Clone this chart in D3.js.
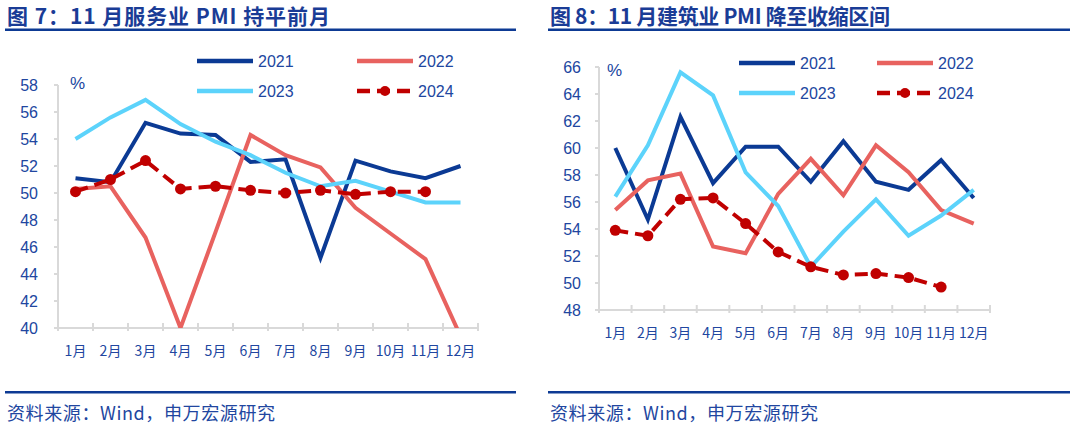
<!DOCTYPE html>
<html><head><meta charset="utf-8">
<script src="https://cdn.jsdelivr.net/npm/d3@7"></script>
<style>
body{margin:0;background:#fff;}
svg{display:block;}
text{font-family:"Liberation Sans",Arial,"Noto Sans CJK SC",sans-serif;}
</style></head>
<body>
<svg id="c" width="1080" height="426"></svg>
<script>
const months = ["1月","2月","3月","4月","5月","6月","7月","8月","9月","10月","11月","12月"];
const seriesNames = ["2021","2022","2023","2024"];

// Chart 7: services PMI
const svc2021 = [51.1,50.8,55.2,54.4,54.3,52.3,52.5,45.2,52.4,51.6,51.1,52.0];
const svc2022 = [50.3,50.5,46.7,40.0,47.1,54.3,52.8,51.9,48.9,47.0,45.1,39.4];
const svc2023 = [54.0,55.6,56.9,55.1,53.8,52.8,51.5,50.5,50.9,50.1,49.3,49.3];
const svc2024 = [50.1,51.0,52.4,50.3,50.5,50.2,50.0,50.2,49.9,50.1,50.1];
const svcTicks = [40,42,44,46,48,50,52,54,56,58];

// Chart 8: construction PMI
const con2021 = [60.0,54.7,62.3,57.4,60.1,60.1,57.5,60.5,57.5,56.9,59.1,56.3];
const con2022 = [55.4,57.6,58.1,52.7,52.2,56.6,59.2,56.5,60.2,58.2,55.4,54.4];
const con2023 = [56.4,60.2,65.6,63.9,58.2,55.7,51.2,53.8,56.2,53.5,55.0,56.9];
const con2024 = [53.9,53.5,56.2,56.3,54.4,52.3,51.2,50.6,50.7,50.4,49.7];
const conTicks = [48,50,52,54,56,58,60,62,64,66];

const colors = ["#0b3a94","#e8625f","#5cd3fb","#c00000"];
const textBlue = "#2146a0";
const titleBlue = "#1a3c96";
const svg = d3.select("#c");

function panel(o){
  const g = svg.append("g");
  // title
  g.append("text").attr("x",o.tx).attr("y",24).attr("font-size",21).attr("font-weight","bold")
    .attr("fill",titleBlue).attr("textLength",o.tlen).attr("lengthAdjust","spacing")
    .style("font-family","'Noto Sans CJK SC','Liberation Sans',sans-serif").text(o.title);
  g.append("rect").attr("x",o.tx-2).attr("y",28.5).attr("width",o.lw).attr("height",2.5).attr("fill","#0d3a94");
  g.append("rect").attr("x",o.tx-2).attr("y",391).attr("width",o.lw).attr("height",2.5).attr("fill","#0d3a94");
  g.append("text").attr("x",o.tx).attr("y",420).attr("font-size",18).attr("fill",textBlue)
    .attr("textLength",268).attr("lengthAdjust","spacing")
    .style("font-family","'Noto Sans CJK SC',sans-serif").text("资料来源：Wind，申万宏源研究");

  const x = d3.scaleBand().domain(months).range([o.x0,o.x1]);
  const y = d3.scaleLinear().domain([o.ticks[0],o.ticks[o.ticks.length-1]]).range([o.y1,o.y0]);

  // axes
  const ax = g.append("g");
  ax.append("line").attr("x1",o.x0).attr("x2",o.x0).attr("y1",y(o.ticks[o.ticks.length-1])).attr("y2",o.y1)
    .attr("stroke","#d9d9d9").attr("stroke-width",2);
  ax.append("line").attr("x1",o.x0).attr("x2",o.x1).attr("y1",o.y1).attr("y2",o.y1)
    .attr("stroke","#d9d9d9").attr("stroke-width",2);
  o.ticks.forEach(t=>{
    ax.append("line").attr("x1",o.x0-4).attr("x2",o.x0).attr("y1",y(t)).attr("y2",y(t)).attr("stroke","#d9d9d9").attr("stroke-width",2);
    ax.append("text").attr("x",o.x0-o.ylabOff).attr("y",y(t)).attr("dy","0.36em").attr("text-anchor","end")
      .attr("font-size",16).attr("fill",textBlue).text(t);
  });
  const bounds = months.map(m=>x(m)).concat([o.x1]);
  bounds.forEach(b=>{
    ax.append("line").attr("x1",b).attr("x2",b).attr("y1",o.y1-5).attr("y2",o.y1+3).attr("stroke","#d9d9d9").attr("stroke-width",2);
  });
  months.forEach(m=>{
    ax.append("text").attr("x",x(m)+x.bandwidth()/2).attr("y",o.y1+o.xlabOff).attr("text-anchor","middle")
      .attr("font-size",14).attr("fill",textBlue).style("font-family","'Noto Sans CJK SC',sans-serif").text(m);
  });
  g.append("text").attr("x",o.px).attr("y",o.py).attr("font-size",17).attr("fill",textBlue).text("%");

  const cid = "clip"+o.id;
  svg.append("clipPath").attr("id",cid).append("rect")
    .attr("x",o.x0).attr("y",o.y0-10).attr("width",o.x1-o.x0).attr("height",o.y1-o.y0+10);
  const plot = g.append("g").attr("clip-path",`url(#${cid})`);
  const line = d3.line().x((d,i)=>x(months[i])+x.bandwidth()/2).y(d=>y(d));
  o.data.forEach((arr,k)=>{
    const p = plot.append("path").datum(arr).attr("d",line).attr("fill","none")
      .attr("stroke",colors[k]).attr("stroke-width",4).attr("stroke-linejoin","miter");
    if(k===3){
      p.attr("stroke-dasharray","13,7");
      plot.selectAll(".dot"+o.id).data(arr).enter().append("circle")
        .attr("cx",(d,i)=>x(months[i])+x.bandwidth()/2).attr("cy",d=>y(d)).attr("r",5.5).attr("fill",colors[3]);
    }
  });

  // legend
  const lg = g.append("g");
  seriesNames.forEach((s,k)=>{
    const lx = o.lgx[k%2], ly = o.lgy[Math.floor(k/2)];
    const l = lg.append("line").attr("x1",lx).attr("x2",lx+56).attr("y1",ly).attr("y2",ly)
      .attr("stroke",colors[k]).attr("stroke-width",4.5);
    if(k===3){
      l.attr("stroke-dasharray","13,7");
      lg.append("circle").attr("cx",lx+28).attr("cy",ly).attr("r",5).attr("fill",colors[3]);
    }
    lg.append("text").attr("x",lx+61).attr("y",ly).attr("dy","0.36em").attr("font-size",16).attr("fill",textBlue).text(s);
  });
}

panel({id:7,title:"图 7：11 月服务业 PMI 持平前月",tx:7,tlen:323,lw:511,
  x0:58,x1:478,y0:85,y1:328,ticks:svcTicks,ylabOff:20,xlabOff:28,px:70,py:89,
  data:[svc2021,svc2022,svc2023,svc2024],lgx:[197,357],lgy:[61,91]});
panel({id:8,title:"图 8：11 月建筑业 PMI 降至收缩区间",tx:550,tlen:340,lw:522,
  x0:599,x1:990,y0:67,y1:310,ticks:conTicks,ylabOff:18,xlabOff:28,px:607,py:76,
  data:[con2021,con2022,con2023,con2024],lgx:[739,877],lgy:[63,93]});
</script>
</body></html>
